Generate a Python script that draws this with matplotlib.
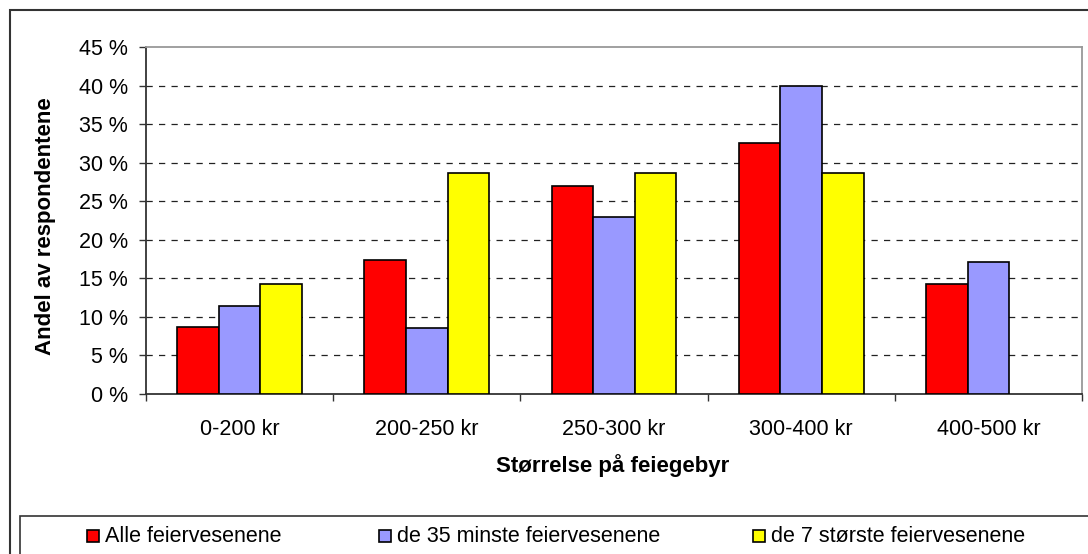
import matplotlib
matplotlib.use("Agg")
import matplotlib.pyplot as plt
from matplotlib.patches import Rectangle
import numpy as np

plt.rcParams['font.family'] = ['Liberation Sans', 'DejaVu Sans']

categories = ["0-200 kr", "200-250 kr", "250-300 kr", "300-400 kr", "400-500 kr"]
series_names = ["Alle feiervesenene", "de 35 minste feiervesenene", "de 7 største feiervesenene"]
alle = [8.7, 17.4, 27.0, 32.6, 14.3]
minste = [11.4, 8.6, 22.9, 40.0, 17.1]
storste = [14.3, 28.6, 28.6, 28.6, 0.0]
colors = ["#FF0000", "#9999FF", "#FFFF00"]
yticks = [0, 5, 10, 15, 20, 25, 30, 35, 40, 45]

FS = 15.5
W, H = 1088, 554
fig = plt.figure(figsize=(W / 100, H / 100), dpi=100)
ax = fig.add_axes([146 / W, 1 - 394 / H, (1082 - 146) / W, (394 - 47) / H])

x = np.arange(len(categories))
bw = 0.222
for i, (vals, col) in enumerate(zip([alle, minste, storste], colors)):
    # empty categories get no bar at all (no outline on the baseline)
    heights = [v if v > 0 else np.nan for v in vals]
    ax.bar(x + (i - 1) * bw, heights, width=bw, color=col, edgecolor="black",
           linewidth=1.2, zorder=3)

ax.set_xlim(-0.5, len(categories) - 0.5)
ax.set_ylim(0, 45)
ax.set_yticks(yticks)
ax.set_yticklabels([f"{v} %" for v in yticks], fontsize=FS)
ax.set_xticks(x)
ax.set_xticklabels(categories, fontsize=FS)
ax.set_xticks(np.arange(-0.5, len(categories)), minor=True)
ax.tick_params(axis="x", which="major", length=0, pad=18)
ax.tick_params(axis="x", which="minor", length=5, width=1, color="#333333")
ax.tick_params(axis="y", length=5, width=1, color="#333333", pad=8)

for v in yticks[1:-1]:
    ax.axhline(v, color="#222222", linestyle=(0, (5, 5)), linewidth=0.9, zorder=1)

for s in ["left", "bottom"]:
    ax.spines[s].set_color("#333333")
    ax.spines[s].set_linewidth(1.3)
for s in ["top", "right"]:
    ax.spines[s].set_color("#999999")
    ax.spines[s].set_linewidth(1.3)

fig.text(46 / W, 1 - 226 / H, "Andel av respondentene", rotation=90, fontsize=FS + 0.5,
         fontweight="bold", ha="center", va="center")
fig.text(613 / W, 1 - 466 / H, "Størrelse på feiegebyr", fontsize=FS + 0.5,
         fontweight="bold", ha="center", va="center")

# outer chart border
fig.patches.append(Rectangle((10 / W, -0.05), 1.2, 1 - 10 / H + 0.05, transform=fig.transFigure,
                             fill=False, edgecolor="#333333", linewidth=1.5))
# legend frame
fig.patches.append(Rectangle((20 / W, -0.05), 1.2, 1 - 516 / H + 0.05, transform=fig.transFigure,
                             fill=False, edgecolor="#333333", linewidth=1.2))
leg_x = [87, 379, 753]
ly = 1 - 536 / H
for name, col, lx in zip(series_names, colors, leg_x):
    fig.patches.append(Rectangle((lx / W, ly - 6 / H), 12 / W, 12 / H, transform=fig.transFigure,
                                 facecolor=col, edgecolor="black", linewidth=1.2))
    fig.text((lx + 18) / W, ly, name, fontsize=FS, ha="left", va="center")

fig.savefig("out.png", dpi=100)
